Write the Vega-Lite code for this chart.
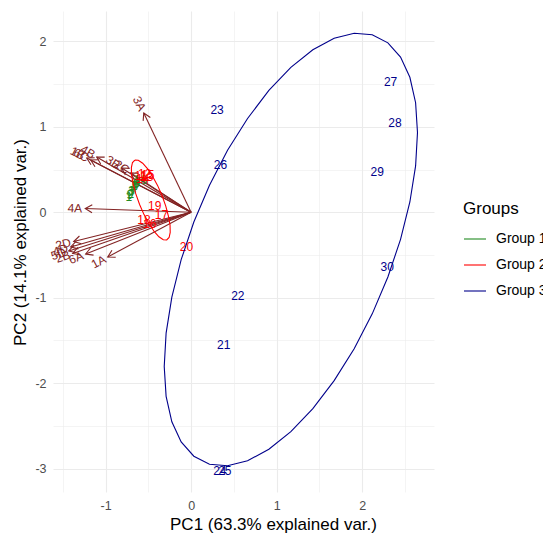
{
  "$schema": "https://vega.github.io/schema/vega-lite/v6.json",
  "width": 381,
  "height": 481,
  "autosize": {"type": "none"},
  "padding": {"left": 53, "top": 11, "right": 109, "bottom": 43},
  "background": "white",
  "config": {
    "font": "Liberation Sans",
    "view": {"stroke": null},
    "axis": {
      "labelFont": "Liberation Sans",
      "titleFont": "Liberation Sans",
      "labelFontSize": 12.5,
      "labelColor": "#4D4D4D",
      "titleFontSize": 17,
      "titleFontWeight": "normal",
      "titleColor": "#000000",
      "ticks": false,
      "domain": false,
      "gridColor": "#EBEBEB"
    }
  },
  "datasets": {
    "obs": [
      {"group": "Group 1", "label": "1", "x": -0.729, "y": 0.179},
      {"group": "Group 1", "label": "2", "x": -0.705, "y": 0.214},
      {"group": "Group 1", "label": "3", "x": -0.694, "y": 0.249},
      {"group": "Group 1", "label": "4", "x": -0.670, "y": 0.285},
      {"group": "Group 1", "label": "5", "x": -0.658, "y": 0.308},
      {"group": "Group 1", "label": "6", "x": -0.647, "y": 0.332},
      {"group": "Group 1", "label": "7", "x": -0.682, "y": 0.238},
      {"group": "Group 1", "label": "8", "x": -0.635, "y": 0.343},
      {"group": "Group 1", "label": "9", "x": -0.717, "y": 0.202},
      {"group": "Group 1", "label": "10", "x": -0.588, "y": 0.378},
      {"group": "Group 2", "label": "11", "x": -0.588, "y": 0.425},
      {"group": "Group 2", "label": "12", "x": -0.542, "y": 0.448},
      {"group": "Group 2", "label": "13", "x": -0.518, "y": 0.413},
      {"group": "Group 2", "label": "14", "x": -0.565, "y": 0.390},
      {"group": "Group 2", "label": "15", "x": -0.506, "y": 0.437},
      {"group": "Group 2", "label": "16", "x": -0.483, "y": -0.137},
      {"group": "Group 2", "label": "17", "x": -0.346, "y": -0.032},
      {"group": "Group 2", "label": "18", "x": -0.550, "y": -0.090},
      {"group": "Group 2", "label": "19", "x": -0.425, "y": 0.074},
      {"group": "Group 2", "label": "20", "x": -0.054, "y": -0.403},
      {"group": "Group 3", "label": "21", "x": 0.382, "y": -1.554},
      {"group": "Group 3", "label": "22", "x": 0.546, "y": -0.980},
      {"group": "Group 3", "label": "23", "x": 0.304, "y": 1.198},
      {"group": "Group 3", "label": "24", "x": 0.336, "y": -3.026},
      {"group": "Group 3", "label": "25", "x": 0.394, "y": -3.026},
      {"group": "Group 3", "label": "26", "x": 0.344, "y": 0.553},
      {"group": "Group 3", "label": "27", "x": 2.332, "y": 1.522},
      {"group": "Group 3", "label": "28", "x": 2.382, "y": 1.042},
      {"group": "Group 3", "label": "29", "x": 2.176, "y": 0.475},
      {"group": "Group 3", "label": "30", "x": 2.292, "y": -0.637}
    ],
    "arrows": [
      {"name": "3A", "x": -0.553, "y": 1.163},
      {"name": "4A", "x": -1.237, "y": 0.044},
      {"name": "1A", "x": -0.974, "y": -0.523},
      {"name": "2D", "x": -1.372, "y": -0.342},
      {"name": "4D", "x": -1.407, "y": -0.406},
      {"name": "5D", "x": -1.430, "y": -0.453},
      {"name": "2B", "x": -1.384, "y": -0.482},
      {"name": "6A", "x": -1.232, "y": -0.488},
      {"name": "1B", "x": -1.220, "y": 0.635},
      {"name": "6C", "x": -1.173, "y": 0.612},
      {"name": "4B", "x": -1.103, "y": 0.647},
      {"name": "3B", "x": -0.811, "y": 0.519},
      {"name": "2C", "x": -0.705, "y": 0.462}
    ],
    "ell": [
      {"group": "Group 2", "i": 0, "x": -0.657, "y": 0.612},
      {"group": "Group 2", "i": 1, "x": -0.617, "y": 0.609},
      {"group": "Group 2", "i": 2, "x": -0.566, "y": 0.575},
      {"group": "Group 2", "i": 3, "x": -0.510, "y": 0.512},
      {"group": "Group 2", "i": 4, "x": -0.451, "y": 0.423},
      {"group": "Group 2", "i": 5, "x": -0.392, "y": 0.315},
      {"group": "Group 2", "i": 6, "x": -0.340, "y": 0.196},
      {"group": "Group 2", "i": 7, "x": -0.296, "y": 0.073},
      {"group": "Group 2", "i": 8, "x": -0.265, "y": -0.045},
      {"group": "Group 2", "i": 9, "x": -0.246, "y": -0.150},
      {"group": "Group 2", "i": 10, "x": -0.244, "y": -0.235},
      {"group": "Group 2", "i": 11, "x": -0.257, "y": -0.295},
      {"group": "Group 2", "i": 12, "x": -0.285, "y": -0.324},
      {"group": "Group 2", "i": 13, "x": -0.325, "y": -0.321},
      {"group": "Group 2", "i": 14, "x": -0.376, "y": -0.287},
      {"group": "Group 2", "i": 15, "x": -0.432, "y": -0.224},
      {"group": "Group 2", "i": 16, "x": -0.491, "y": -0.135},
      {"group": "Group 2", "i": 17, "x": -0.550, "y": -0.027},
      {"group": "Group 2", "i": 18, "x": -0.602, "y": 0.092},
      {"group": "Group 2", "i": 19, "x": -0.646, "y": 0.215},
      {"group": "Group 2", "i": 20, "x": -0.677, "y": 0.333},
      {"group": "Group 2", "i": 21, "x": -0.696, "y": 0.438},
      {"group": "Group 2", "i": 22, "x": -0.698, "y": 0.523},
      {"group": "Group 2", "i": 23, "x": -0.685, "y": 0.583},
      {"group": "Group 2", "i": 24, "x": -0.657, "y": 0.612},
      {"group": "Group 3", "i": 0, "x": 2.646, "y": 0.934},
      {"group": "Group 3", "i": 1, "x": 2.624, "y": 0.543},
      {"group": "Group 3", "i": 2, "x": 2.557, "y": 0.121},
      {"group": "Group 3", "i": 3, "x": 2.448, "y": -0.317},
      {"group": "Group 3", "i": 4, "x": 2.300, "y": -0.758},
      {"group": "Group 3", "i": 5, "x": 2.117, "y": -1.189},
      {"group": "Group 3", "i": 6, "x": 1.906, "y": -1.598},
      {"group": "Group 3", "i": 7, "x": 1.672, "y": -1.971},
      {"group": "Group 3", "i": 8, "x": 1.423, "y": -2.299},
      {"group": "Group 3", "i": 9, "x": 1.166, "y": -2.569},
      {"group": "Group 3", "i": 10, "x": 0.909, "y": -2.775},
      {"group": "Group 3", "i": 11, "x": 0.660, "y": -2.909},
      {"group": "Group 3", "i": 12, "x": 0.426, "y": -2.968},
      {"group": "Group 3", "i": 13, "x": 0.215, "y": -2.951},
      {"group": "Group 3", "i": 14, "x": 0.032, "y": -2.856},
      {"group": "Group 3", "i": 15, "x": -0.116, "y": -2.689},
      {"group": "Group 3", "i": 16, "x": -0.225, "y": -2.453},
      {"group": "Group 3", "i": 17, "x": -0.292, "y": -2.155},
      {"group": "Group 3", "i": 18, "x": -0.314, "y": -1.806},
      {"group": "Group 3", "i": 19, "x": -0.292, "y": -1.415},
      {"group": "Group 3", "i": 20, "x": -0.225, "y": -0.993},
      {"group": "Group 3", "i": 21, "x": -0.116, "y": -0.555},
      {"group": "Group 3", "i": 22, "x": 0.032, "y": -0.114},
      {"group": "Group 3", "i": 23, "x": 0.215, "y": 0.317},
      {"group": "Group 3", "i": 24, "x": 0.426, "y": 0.726},
      {"group": "Group 3", "i": 25, "x": 0.660, "y": 1.099},
      {"group": "Group 3", "i": 26, "x": 0.909, "y": 1.427},
      {"group": "Group 3", "i": 27, "x": 1.166, "y": 1.697},
      {"group": "Group 3", "i": 28, "x": 1.423, "y": 1.903},
      {"group": "Group 3", "i": 29, "x": 1.672, "y": 2.037},
      {"group": "Group 3", "i": 30, "x": 1.906, "y": 2.096},
      {"group": "Group 3", "i": 31, "x": 2.117, "y": 2.079},
      {"group": "Group 3", "i": 32, "x": 2.300, "y": 1.984},
      {"group": "Group 3", "i": 33, "x": 2.448, "y": 1.817},
      {"group": "Group 3", "i": 34, "x": 2.557, "y": 1.581},
      {"group": "Group 3", "i": 35, "x": 2.624, "y": 1.283},
      {"group": "Group 3", "i": 36, "x": 2.646, "y": 0.934}
    ]
  },
  "encoding": {
    "x": {
      "field": "x", "type": "quantitative",
      "scale": {"domain": [-1.614, 2.839], "nice": false, "zero": false},
      "axis": {
        "title": "PC1 (63.3% explained var.)",
        "values": [-1.5, -1, -0.5, 0, 0.5, 1, 1.5, 2, 2.5],
        "labelExpr": "datum.value % 1 === 0 ? toString(datum.value) : ''",
        "gridWidth": {"condition": {"test": "datum.value % 1 !== 0", "value": 0.55}, "value": 1.1},
        "labelPadding": 7,
        "titleX": 220,
        "titleY": 32,
        "titleAlign": "center",
        "titleBaseline": "middle"
      }
    },
    "y": {
      "field": "y", "type": "quantitative",
      "scale": {"domain": [-3.275, 2.357], "nice": false, "zero": false},
      "axis": {
        "title": "PC2 (14.1% explained var.)",
        "values": [-3, -2.5, -2, -1.5, -1, -0.5, 0, 0.5, 1, 1.5, 2],
        "labelExpr": "datum.value % 1 === 0 ? toString(datum.value) : ''",
        "gridWidth": {"condition": {"test": "datum.value % 1 !== 0", "value": 0.55}, "value": 1.1},
        "labelPadding": 7,
        "titleX": -33,
        "titleY": 231,
        "titleAngle": -90,
        "titleAlign": "center",
        "titleBaseline": "middle"
      }
    }
  },
  "layer": [
    {
      "data": {"name": "arrows"},
      "mark": {"type": "rule", "color": "#832424", "strokeWidth": 1.1},
      "encoding": {
        "x2": {"datum": 0},
        "y2": {"datum": 0}
      }
    },
    {
      "data": {"name": "arrows"},
      "transform": [{"calculate": "atan2(-datum.y, datum.x) * 180 / PI", "as": "head"}],
      "mark": {"type": "point", "shape": "M -1 -0.577 L 0 0 L -1 0.577", "filled": false, "color": "#832424", "strokeWidth": 1.1, "opacity": 1, "size": 190},
      "encoding": {
        "angle": {"field": "head", "type": "quantitative", "scale": null}
      }
    },
    {
      "data": {"name": "obs"},
      "mark": {"type": "text", "fontSize": 12, "align": "center", "baseline": "middle", "font": "Liberation Sans"},
      "encoding": {
        "text": {"field": "label"},
        "color": {
          "field": "group", "type": "nominal",
          "scale": {"domain": ["Group 1", "Group 2", "Group 3"], "range": ["#228B22", "#FF0000", "#00008B"]},
          "legend": {
            "title": "Groups", "orient": "none", "legendX": 410, "legendY": 190,
            "symbolType": "stroke", "symbolSize": 484, "symbolStrokeWidth": 1.1,
            "titleFontSize": 17, "titleFontWeight": "normal", "titleColor": "#000000", "titleFont": "Liberation Sans",
            "labelFontSize": 14, "labelColor": "#000000", "labelFont": "Liberation Sans",
            "labelOffset": 9, "rowPadding": 7, "titlePadding": 9, "padding": 0
          }
        }
      }
    },
    {
      "data": {"name": "ell"},
      "mark": {"type": "line", "strokeWidth": 1.1},
      "encoding": {
        "order": {"field": "i", "type": "quantitative"},
        "color": {
          "field": "group", "type": "nominal",
          "legend": {
            "title": "Groups", "orient": "none", "legendX": 410, "legendY": 190,
            "symbolType": "stroke", "symbolSize": 484, "symbolStrokeWidth": 1.1,
            "titleFontSize": 17, "titleFontWeight": "normal", "titleColor": "#000000", "titleFont": "Liberation Sans",
            "labelFontSize": 14, "labelColor": "#000000", "labelFont": "Liberation Sans",
            "labelOffset": 9, "rowPadding": 7, "titlePadding": 9, "padding": 0
          }
        }
      }
    },
    {
      "data": {"name": "arrows"},
      "transform": [{"calculate": "-atan(datum.y / datum.x) * 180 / PI", "as": "tang"}],
      "mark": {"type": "text", "fontSize": 12, "align": "right", "baseline": "middle", "dx": -3, "color": "#832424", "font": "Liberation Sans"},
      "encoding": {
        "text": {"field": "name"},
        "angle": {"field": "tang", "type": "quantitative", "scale": null}
      }
    }
  ]
}
